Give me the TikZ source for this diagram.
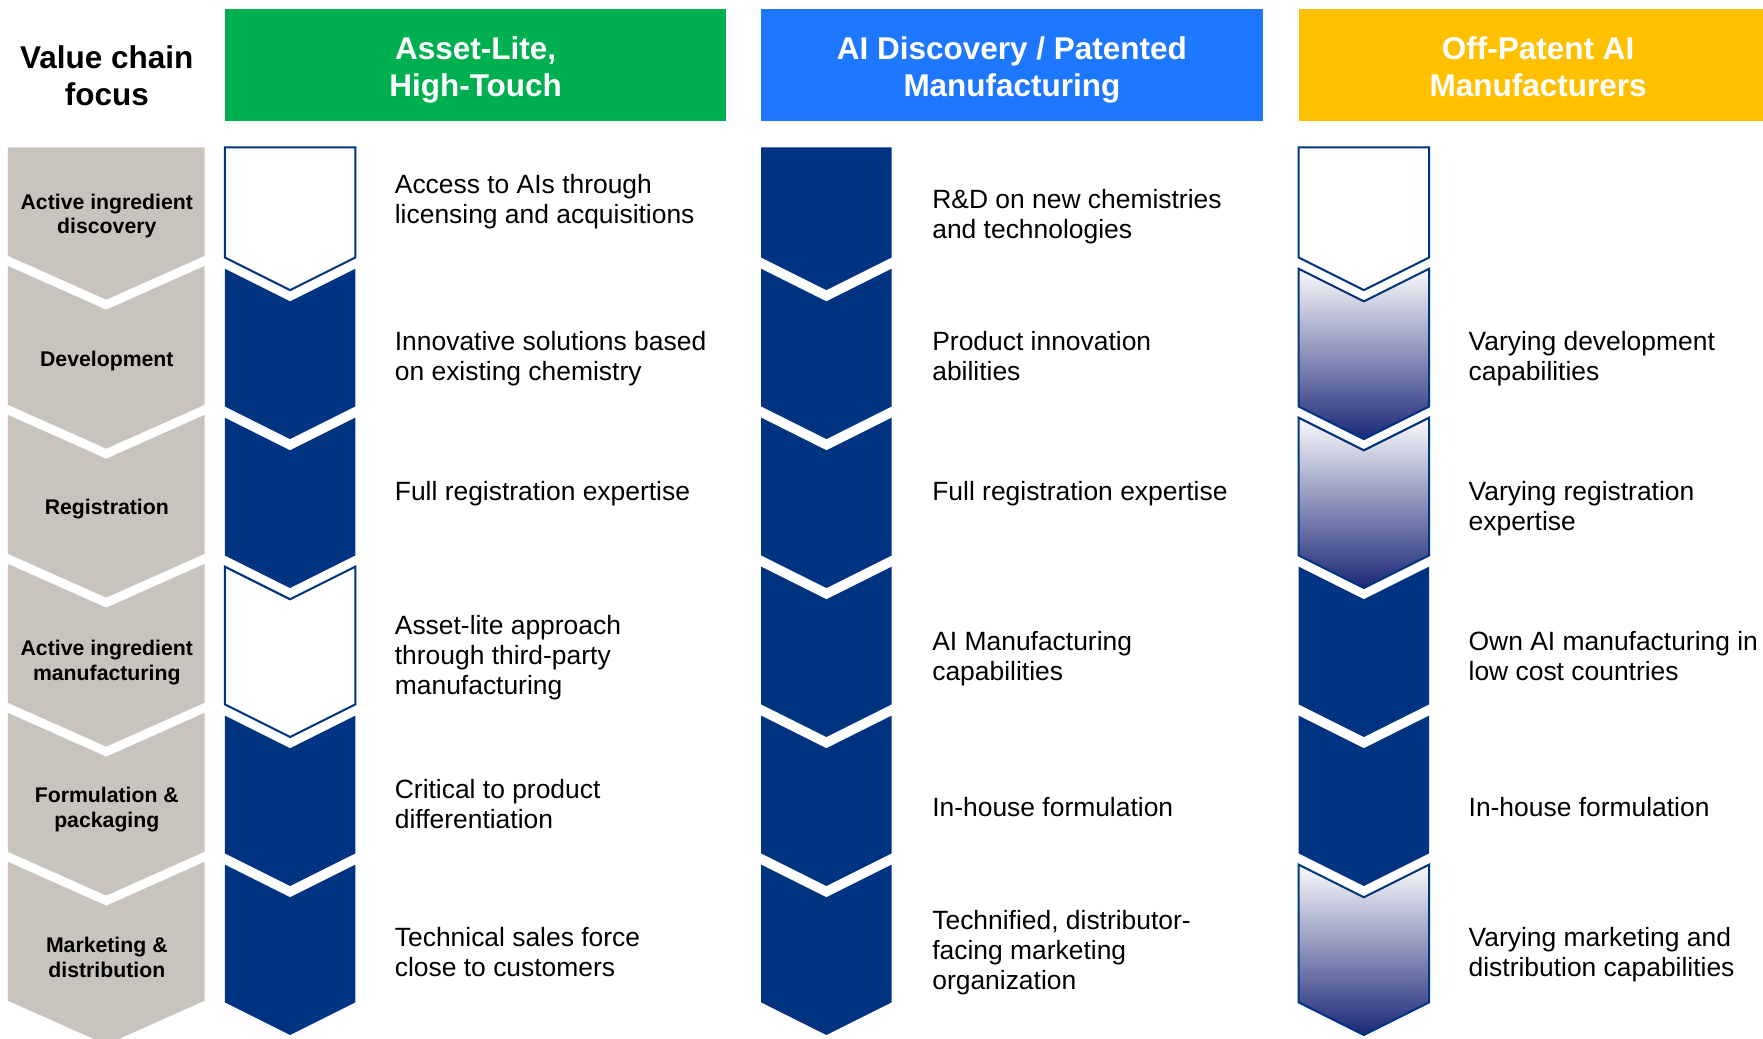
\documentclass[tikz,border=0pt]{standalone}
\usepackage{fontspec}
\setmainfont{Liberation Sans}

\definecolor{navy}{RGB}{0,51,128}
\definecolor{gradnavy}{RGB}{28,40,120}
\definecolor{gradmid}{RGB}{184,186,205}
\definecolor{gradtop}{RGB}{251,251,252}
\definecolor{stagegray}{RGB}{201,195,189}
\definecolor{hdgreen}{RGB}{0,176,80}
\definecolor{hdblue}{RGB}{30,120,255}
\definecolor{hdyellow}{RGB}{255,192,0}

\newcommand\bodyfont{\fontsize{23.5}{26.6}\selectfont}
\newcommand\headfont{\fontsize{28}{33}\selectfont\bfseries}
\newcommand\stagefont{\fontsize{18.9}{22}\selectfont\bfseries}
% top-aligned text blocks, so that the node base is the first baseline
\newcommand\leftblock[1]{\parbox[t]{330pt}{\raggedright #1}}
\newcommand\midblock[2]{\parbox[t]{#1}{\centering #2}}

% chevron: #1 style, #2 left x, #3 right x, #4 top y, #5 notch depth, #6 side bottom y, #7 tip depth
\newcommand\chevron[7]{%
  \path[#1] (#2,#4) -- ({(#2+#3)/2},{#4+#5}) -- (#3,#4) -- (#3,#6)
    -- ({(#2+#3)/2},{#6+#7}) -- (#2,#6) -- cycle;}

% blue step of a capability column: #1 style, #2 left x, #3 right x, #4 row
\newcommand\bluestep[4]{%
  \pgfmathsetmacro\stTop{#4==0 ? 131 : 106.5+132.5*#4}%
  \pgfmathsetmacro\stNotch{#4==0 ? 0 : 29}%
  \pgfmathsetmacro\stBot{229+132.5*#4}%
  \chevron{#1}{#2}{#3}{\stTop}{\stNotch}{\stBot}{29}}

% gray step of the value chain column: #1 row
\newcommand\graystep[1]{%
  \pgfmathsetmacro\stTop{#1==0 ? 131 : 104+132.5*#1}%
  \pgfmathsetmacro\stNotch{#1==0 ? 0 : 39}%
  \pgfmathsetmacro\stBot{227.5+132.5*#1}%
  \chevron{fill=stagegray}{7}{182}{\stTop}{\stNotch}{\stBot}{39}}

\begin{document}
\begin{tikzpicture}[x=1pt,y=-1pt,
  navystep/.style={fill=navy},
  hollowstep/.style={fill=white,draw=navy,line width=1.8pt,line join=miter},
  gradstep/.style={top color=gradtop,middle color=gradmid,bottom color=gradnavy,
                   draw=navy,line width=1.8pt,line join=miter},
  body/.style={anchor=base west,inner sep=0pt,font=\bodyfont,text=black},
  stage/.style={anchor=base,inner sep=0pt,font=\stagefont,text=black},
  head/.style={anchor=base,inner sep=0pt,font=\headfont,text=white},
]
\useasboundingbox (0,0) rectangle (1568,924);
\clip (0,0) rectangle (1568,924);
\fill[white] (0,0) rectangle (1568,924);

% column headers
\node[anchor=base,inner sep=0pt,font=\headfont] (vc) at (95,60.5) {\midblock{170pt}{Value chain\\focus}};
\fill[hdgreen]  (200,8)  rectangle (646,108);
\fill[hdblue]   (677,8)  rectangle (1123,108);
\fill[hdyellow] (1155,8) rectangle (1600,108);
\node[head] (h1) at (423,52.5)  {\midblock{440pt}{Asset-Lite,\\High-Touch}};
\node[head] (h2) at (900,52.5)  {\midblock{440pt}{AI Discovery / Patented\\Manufacturing}};
\node[head] (h3) at (1368,52.5) {\midblock{440pt}{Off-Patent AI\\Manufacturers}};

% value chain stages
\foreach \i in {0,...,5} {\graystep{\i}}
\node[stage] (s0) at (95,186) {\midblock{175pt}{Active ingredient\\discovery}};
\node[stage] (s1) at (95,326) {\midblock{175pt}{Development}};
\node[stage] (s2) at (95,458) {\midblock{175pt}{Registration}};
\node[stage] (s3) at (95,583) {\midblock{175pt}{Active ingredient\\manufacturing}};
\node[stage] (s4) at (95,714) {\midblock{175pt}{Formulation \&\\packaging}};
\node[stage] (s5) at (95,847) {\midblock{175pt}{Marketing \&\\distribution}};

% capability chevrons
\foreach \s [count=\i from 0] in {hollowstep,navystep,navystep,hollowstep,navystep,navystep}
  {\bluestep{\s}{200}{316}{\i}}
\foreach \s [count=\i from 0] in {navystep,navystep,navystep,navystep,navystep,navystep}
  {\bluestep{\s}{677}{793}{\i}}
\foreach \s [count=\i from 0] in {hollowstep,gradstep,gradstep,navystep,navystep,gradstep}
  {\bluestep{\s}{1155}{1271}{\i}}

% Asset-Lite, High-Touch
\node[body] (a0) at (351,172.5) {\leftblock{Access to AIs through\\licensing and acquisitions}};
\node[body] (a1) at (351,311.5) {\leftblock{Innovative solutions based\\on existing chemistry}};
\node[body] (a2) at (351,445.5) {\leftblock{Full registration expertise}};
\node[body] (a3) at (351,564.5) {\leftblock{Asset-lite approach\\through third-party\\manufacturing}};
\node[body] (a4) at (351,710.5) {\leftblock{Critical to product\\differentiation}};
\node[body] (a5) at (351,841.5) {\leftblock{Technical sales force\\close to customers}};

% AI Discovery / Patented Manufacturing
\node[body] (b0) at (829,185.5) {\leftblock{R\&D on new chemistries\\and technologies}};
\node[body] (b1) at (829,311.5) {\leftblock{Product innovation\\abilities}};
\node[body] (b2) at (829,445.5) {\leftblock{Full registration expertise}};
\node[body] (b3) at (829,578.5) {\leftblock{AI Manufacturing\\capabilities}};
\node[body] (b4) at (829,726.5) {\leftblock{In-house formulation}};
\node[body] (b5) at (829,826.5) {\leftblock{Technified, distributor-\\facing marketing\\organization}};

% Off-Patent AI Manufacturers
\node[body] (c1) at (1306,311.5) {\leftblock{Varying development\\capabilities}};
\node[body] (c2) at (1306,445.5) {\leftblock{Varying registration\\expertise}};
\node[body] (c3) at (1306,578.5) {\leftblock{Own AI manufacturing in\\low cost countries}};
\node[body] (c4) at (1306,726.5) {\leftblock{In-house formulation}};
\node[body] (c5) at (1306,841.5) {\leftblock{Varying marketing and\\distribution capabilities}};
\end{tikzpicture}
\end{document}
